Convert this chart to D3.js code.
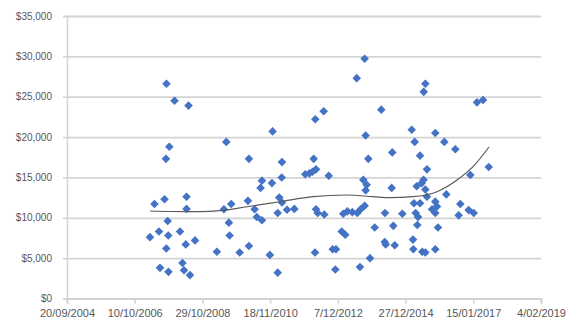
<!DOCTYPE html>
<html>
<head>
<meta charset="utf-8">
<script src="https://cdn.jsdelivr.net/npm/d3@7"></script>
<style>
  html, body { margin: 0; padding: 0; background: #fff; }
  svg { display: block; }
  text { font-family: "Liberation Sans", Arial, sans-serif; }
</style>
</head>
<body>
<svg id="chart" width="570" height="326"></svg>
<script>
// Sale dates and prices
const saleDates = [
  "2007-03-28","2007-05-17","2007-07-06","2007-07-17","2007-09-05","2007-09-27","2007-09-21","2007-10-28",
  "2007-10-10","2007-09-25","2007-10-17","2007-10-19","2007-12-25","2008-02-24","2008-03-22","2008-04-08",
  "2008-04-27","2008-05-06","2008-05-06","2008-05-28","2008-06-13","2008-08-08",
  "2009-07-20","2010-03-28","2010-08-19","2010-08-04","2009-09-13","2009-06-24","2010-03-17","2010-05-30",
  "2010-06-24","2010-08-19","2009-08-18","2009-08-26","2009-04-07","2009-12-15","2010-03-28","2010-11-15",
  "2010-12-15","2012-04-01","2012-07-03","2011-03-29","2012-03-14","2011-12-12","2012-01-26","2012-03-01",
  "2012-04-09","2010-12-08","2011-03-26","2012-08-28","2011-02-27","2011-03-29","2011-02-10","2011-05-24",
  "2011-08-13","2012-04-09","2012-04-28","2012-07-10","2012-03-29","2012-10-11","2012-11-16","2012-11-09",
  "2011-02-10",
  "2013-09-30","2013-07-04","2014-04-02","2013-10-11","2015-03-05","2015-04-07","2013-11-09","2014-08-02",
  "2015-06-05","2013-09-15","2013-10-22","2013-10-11","2014-07-26","2015-04-29","2015-06-24","2015-07-14",
  "2013-02-05","2013-03-22","2013-05-16","2013-07-10","2013-08-17","2013-09-30","2014-05-13","2014-11-21",
  "2015-03-30","2015-04-18","2015-05-14","2013-01-19","2013-02-27","2014-01-19","2014-08-13","2015-05-06",
  "2014-05-10","2014-05-21","2014-08-29","2015-03-19","2015-03-23","2015-06-30","2013-11-28","2013-08-09",
  "2015-08-03","2015-07-16","2017-02-25","2017-05-03","2015-11-21","2016-02-29","2016-06-30","2017-07-05",
  "2015-08-21","2015-08-03","2016-12-13","2016-03-22","2015-08-21","2015-11-21","2015-12-10","2015-10-16",
  "2015-11-21","2016-08-24","2016-08-06","2016-11-25","2017-01-20","2015-12-21","2015-08-03","2015-11-21",
  "2015-06-05"
];
const salePrices = [
  7600,11700,8300,3800,12300,26600,17300,18800,
  9600,6200,7800,3300,24500,8300,4400,3500,
  6700,12600,11100,23900,2900,7200,
  19400,17300,14600,13700,11700,11050,12100,11050,
  10100,9700,9400,7800,5800,5700,6500,5400,
  20700,22200,23200,16900,17300,15400,15500,15700,
  16000,14300,15000,15200,12500,11900,10600,11000,
  11100,11050,10600,10400,5700,6100,6100,3600,
  3200,
  29700,27300,23400,20200,20900,19400,17300,18100,
  17700,14700,14100,13400,13700,13900,14300,14700,
  10500,10800,10700,10600,11050,11500,10600,10500,
  11800,10600,10100,8300,7900,8800,9000,9100,
  7000,6700,6600,7300,6100,5800,5000,3900,
  26600,25600,24300,24600,20500,19400,18500,16300,
  16000,13500,15300,12900,12600,12000,11400,11050,
  10600,11700,10300,10950,10600,8800,5700,6100,
  11800
];

// Polynomial trend line through the sales
const trendDates = [
  "2007-03-28","2007-11-05","2008-10-02","2009-05-12","2010-03-07","2011-03-07","2012-03-07",
  "2013-03-18","2013-12-31","2014-07-08","2015-03-19","2015-12-10","2016-07-19","2017-01-12","2017-07-08"
];
const trendValues = [
  10840,10780,10760,10880,11370,11990,12610,
  12820,12610,12490,12610,13230,14680,16330,18770
];

// Axis ticks
const xTickDates = ["2004-09-20","2006-10-10","2008-10-29","2010-11-18","2012-12-07","2014-12-27","2017-01-15","2019-02-04"];
const yTickValues = [0, 5000, 10000, 15000, 20000, 25000, 30000, 35000];

const parse = d3.utcParse("%Y-%m-%d");
const sales = saleDates.map((d, i) => ({ date: parse(d), price: salePrices[i] }));
const trend = trendDates.map((d, i) => ({ date: parse(d), value: trendValues[i] }));
const xTicks = xTickDates.map(parse);

const margin = { left: 67, right: 29, top: 16, bottom: 27.5 };
const width = 570, height = 326;
const svg = d3.select("#chart");

const x = d3.scaleUtc()
  .domain([xTicks[0], xTicks[xTicks.length - 1]])
  .range([margin.left, width - margin.right]);
const y = d3.scaleLinear()
  .domain([0, 35000])
  .range([height - margin.bottom, margin.top]);

const gridColor = "#d3d3d3";
const textColor = "#575757";
const fontFamily = "'Liberation Sans', Arial, sans-serif";

// Horizontal gridlines with outward tick marks
const yAxis = svg.append("g")
  .attr("transform", `translate(${margin.left},0)`)
  .call(d3.axisLeft(y)
    .tickValues(yTickValues)
    .tickSize(4)
    .tickPadding(11)
    .tickFormat(v => "$" + d3.format(",")(v)));
yAxis.select(".domain").attr("stroke", gridColor).attr("stroke-width", 1.5);
yAxis.selectAll(".tick line").attr("stroke", gridColor).attr("stroke-width", 1.6);
yAxis.selectAll(".tick").append("line")
  .attr("x1", 0).attr("x2", width - margin.right - margin.left)
  .attr("stroke", gridColor).attr("stroke-width", 1.8);
yAxis.selectAll(".tick text")
  .attr("fill", textColor).style("font-size", "10px")
  .style("font-family", fontFamily);

// Date axis
const xAxis = svg.append("g")
  .attr("transform", `translate(0,${height - margin.bottom})`)
  .call(d3.axisBottom(x)
    .tickValues(xTicks)
    .tickSize(5)
    .tickPadding(6)
    .tickFormat(d3.utcFormat("%-d/%m/%Y")));
xAxis.select(".domain").attr("stroke", gridColor).attr("stroke-width", 1.8);
xAxis.selectAll(".tick line").attr("stroke", gridColor).attr("stroke-width", 1.6);
xAxis.selectAll(".tick text")
  .attr("fill", textColor).style("font-size", "11px")
  .style("font-family", fontFamily);

// Sale markers (diamonds)
const r = 4.3;
svg.append("g")
  .selectAll("path")
  .data(sales)
  .join("path")
  .attr("d", d => {
    const cx = x(d.date), cy = y(d.price);
    return `M${cx},${cy - r}L${cx + r},${cy}L${cx},${cy + r}L${cx - r},${cy}Z`;
  })
  .attr("fill", "#4472c4");

// Trend line
svg.append("path")
  .datum(trend)
  .attr("fill", "none")
  .attr("stroke", "#5a5a5a")
  .attr("stroke-width", 1.2)
  .attr("d", d3.line()
    .x(d => x(d.date))
    .y(d => y(d.value))
    .curve(d3.curveMonotoneX));
</script>
</body>
</html>
